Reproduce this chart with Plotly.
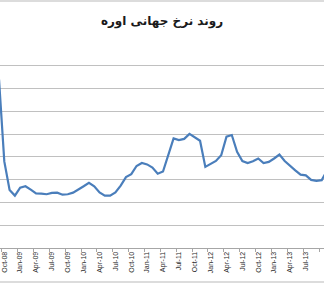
import plotly.graph_objects as go

title_text = "روند نرخ جهانی اوره"

months = ["Sep-08", "Oct-08", "Nov-08", "Dec-08",
          "Jan-09", "Feb-09", "Mar-09", "Apr-09", "May-09", "Jun-09", "Jul-09", "Aug-09", "Sep-09", "Oct-09", "Nov-09", "Dec-09",
          "Jan-10", "Feb-10", "Mar-10", "Apr-10", "May-10", "Jun-10", "Jul-10", "Aug-10", "Sep-10", "Oct-10", "Nov-10", "Dec-10",
          "Jan-11", "Feb-11", "Mar-11", "Apr-11", "May-11", "Jun-11", "Jul-11", "Aug-11", "Sep-11", "Oct-11", "Nov-11", "Dec-11",
          "Jan-12", "Feb-12", "Mar-12", "Apr-12", "May-12", "Jun-12", "Jul-12", "Aug-12", "Sep-12", "Oct-12", "Nov-12", "Dec-12",
          "Jan-13", "Feb-13", "Mar-13", "Apr-13", "May-13", "Jun-13", "Jul-13", "Aug-13", "Sep-13", "Oct-13", "Nov-13"]

prices = [740, 380, 255, 230,
          265, 271, 256, 240, 239, 236, 242, 243, 234, 236, 243, 256,
          271, 286, 271, 244, 230, 230, 244, 274, 311, 324, 360, 373,
          367, 353, 326, 336, 407, 481, 474, 479, 501, 484, 471, 356,
          369, 382, 407, 489, 496, 422, 382, 373, 381, 393, 373, 378,
          393, 410, 382, 360, 341, 322, 319, 299, 295, 298, 340]

x_idx = list(range(len(months)))
label_idx = [i for i in x_idx if months[i].startswith(("Jan", "Apr", "Jul", "Oct"))]
label_txt = [months[i] for i in label_idx]
boundary_idx = [i - 0.5 for i in label_idx]

fig = go.Figure()
fig.add_trace(go.Scatter(
    x=x_idx, y=prices, mode="lines",
    line=dict(color="#4a7ebb", width=2.2),
    hoverinfo="skip", showlegend=False,
))

fig.update_layout(
    width=324, height=285,
    margin=dict(l=0, r=0, t=43, b=37),
    paper_bgcolor="white", plot_bgcolor="white",
    title=dict(text="<b>" + title_text + "</b>", x=0.5, xanchor="center",
               y=1 - 21 / 285, yanchor="middle", yref="container",
               font=dict(family="DejaVu Sans", size=12, color="#1a1a1a")),
    xaxis=dict(
        range=[0.187, 61.43],
        tickmode="array", tickvals=label_idx, ticktext=label_txt,
        ticks="", tickangle=-90,
        tickfont=dict(family="Liberation Sans", size=7, color="#2b2b2b"),
        showgrid=False, zeroline=False,
        showline=True, linecolor="#a6a6a6", linewidth=1,
        minor=dict(tickmode="array", tickvals=boundary_idx, ticks="outside",
                   ticklen=3, tickcolor="#a6a6a6", tickwidth=1, showgrid=False),
    ),
    yaxis=dict(
        range=[0, 900], dtick=100, tick0=0,
        showticklabels=False, ticks="",
        showgrid=True, gridcolor="#c0c0c0", gridwidth=1.4,
        zeroline=False, showline=False,
    ),
    shapes=[
        dict(type="line", xref="paper", yref="paper", x0=0, x1=1,
             y0=(248 - 1) / 205, y1=(248 - 1) / 205,
             line=dict(color="#d0d0d0", width=1.5)),
        dict(type="line", xref="paper", yref="paper", x0=0, x1=1,
             y0=(248 - 282) / 205, y1=(248 - 282) / 205,
             line=dict(color="#d0d0d0", width=1.5)),
    ],
)

fig.write_html("out.html")
